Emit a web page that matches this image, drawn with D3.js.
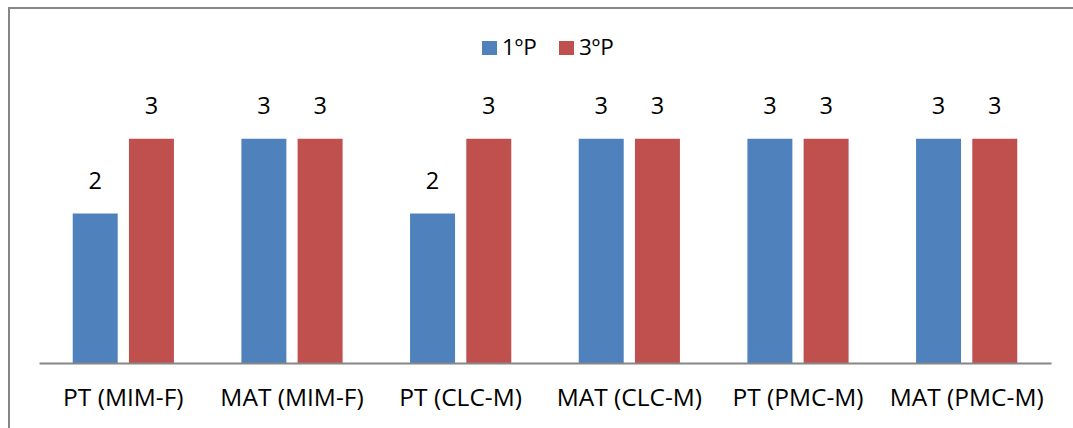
<!DOCTYPE html>
<html><head><meta charset="utf-8">
<script src="https://cdn.jsdelivr.net/npm/d3@7"></script>
<style>body{margin:0;background:#fff}svg{display:block;font-family:"Open Sans",sans-serif}</style>
</head><body>
<svg id="c" width="1073" height="428"></svg>
<script>
const categories = ["PT (MIM-F)","MAT (MIM-F)","PT (CLC-M)","MAT (CLC-M)","PT (PMC-M)","MAT (PMC-M)"];
const seriesNames = ["1ºP","3ºP"];
const values1 = [2,3,2,3,3,3];
const values3 = [3,3,3,3,3,3];
const colors = ["#4F81BD","#C0504D"];
const yTicks = [0,1,2,3,4];
const FONT = "'Open Sans', sans-serif";

const svg = d3.select("#c");
svg.append("rect").attr("x",9).attr("y",8).attr("width",1200).attr("height",600)
  .attr("fill","#fff").attr("stroke","#868686").attr("stroke-width",2);

const y = d3.scaleLinear().domain([0,d3.max(yTicks)]).range([363,64]);
const x0 = d3.scaleBand().domain(categories).range([39,1051]).paddingInner(0.4).paddingOuter(0.2);
const x1 = d3.scaleBand().domain(seriesNames).range([0,x0.bandwidth()]).paddingInner(0.2);

const data = categories.map((c,i)=>({cat:c, vals:[{s:seriesNames[0],v:values1[i]},{s:seriesNames[1],v:values3[i]}]}));

const g = svg.append("g");
const groups = g.selectAll("g.grp").data(data).join("g").attr("transform",d=>`translate(${x0(d.cat)},0)`);
groups.selectAll("rect").data(d=>d.vals).join("rect")
  .attr("x",d=>x1(d.s)).attr("width",x1.bandwidth())
  .attr("y",d=>y(d.v)).attr("height",d=>y(0)-y(d.v))
  .attr("fill",(d,i)=>colors[i]);
groups.selectAll("text").data(d=>d.vals).join("text")
  .attr("x",d=>x1(d.s)+x1.bandwidth()/2).attr("y",d=>y(d.v)-25)
  .attr("text-anchor","middle").attr("font-size",23.5).attr("fill","#000")
  .text(d=>d.v);

// x axis
const xAxis = svg.append("g").attr("transform",`translate(0,${y(0)})`)
  .call(d3.axisBottom(x0).tickSize(0).tickPadding(0));
xAxis.select(".domain").attr("stroke","#868686").attr("stroke-width",2);
xAxis.selectAll(".tick text").attr("font-size",24.5).attr("font-family",FONT).attr("fill","#000")
  .attr("dy",null).attr("y",43);

// legend
const leg = svg.append("g");
const lx = [482,559];
seriesNames.forEach((s,i)=>{
  leg.append("rect").attr("x",lx[i]).attr("y",41).attr("width",15).attr("height",14).attr("fill",colors[i]);
  leg.append("text").attr("x",lx[i]+20).attr("y",55).attr("font-size",22.5).attr("fill","#000").text(s);
});
</script>
</body></html>
